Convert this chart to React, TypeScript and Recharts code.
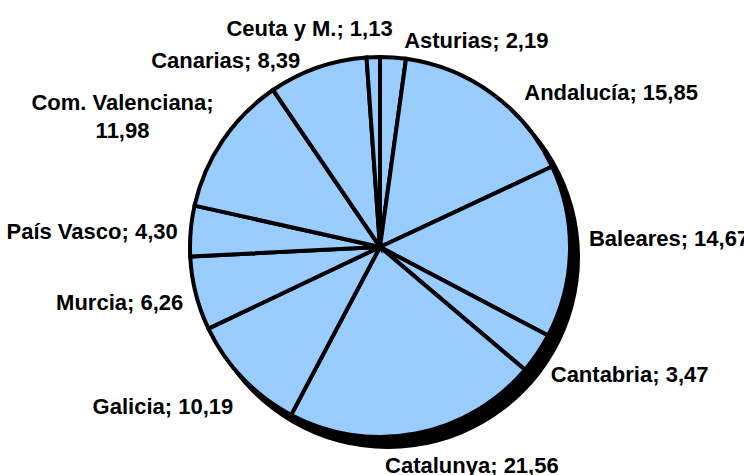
import { PieChart, Pie, Cell } from "recharts";

const regions = [
  "Asturias",
  "Andalucía",
  "Baleares",
  "Cantabria",
  "Catalunya",
  "Galicia",
  "Murcia",
  "País Vasco",
  "Com. Valenciana",
  "Canarias",
  "Ceuta y M.",
];

const shares = [2.19, 15.85, 14.67, 3.47, 21.56, 10.19, 6.26, 4.3, 11.98, 8.39, 1.13];

const data = regions.map((name, i) => ({ name, value: shares[i] }));
const shadow = [{ name: "shadow", value: 1 }];

// small per-label nudges so the labels sit where the original put them
const labelNudge: Record<string, [number, number]> = {
  "Asturias": [10, -1],
  "Andalucía": [22, 11],
  "Baleares": [3, -13],
  "Cantabria": [0, 12],
  "Catalunya": [-34, 16],
  "Galicia": [2, 17],
  "Murcia": [3, 5],
  "País Vasco": [3, 2],
  "Com. Valenciana": [-87, -29],
  "Canarias": [-12, 8],
  "Ceuta y M.": [20, -13],
};

const RADIAN = Math.PI / 180;
const fmt = (v: number) => v.toFixed(2).replace(".", ",");

const renderLabel = (props: any) => {
  const { cx, cy, midAngle, outerRadius, name, value } = props;
  const r = outerRadius + 16;
  const cos = Math.cos(-midAngle * RADIAN);
  const sin = Math.sin(-midAngle * RADIAN);
  const [dx, dy] = labelNudge[name] || [0, 0];
  const x = cx + r * cos + dx;
  const y = cy + r * sin + dy;
  const style = {
    fontFamily: "'Liberation Sans', Arial, sans-serif",
    fontWeight: 700,
    fontSize: 22,
    fill: "#000",
  };
  if (name.length > 12) {
    return (
      <text x={x} y={y} textAnchor="middle" dominantBaseline="central" style={style}>
        <tspan x={x} dy={0}>{name};</tspan>
        <tspan x={x} dy={28}>{fmt(value)}</tspan>
      </text>
    );
  }
  return (
    <text
      x={x}
      y={y}
      textAnchor={cos >= 0 ? "start" : "end"}
      dominantBaseline="central"
      style={style}
    >
      {`${name}; ${fmt(value)}`}
    </text>
  );
};

export default function App() {
  return (
    <div style={{ position: "absolute", left: 0, top: 0, background: "#fff" }}>
      <PieChart width={744} height={475} margin={{ top: 0, right: 0, bottom: 0, left: 0 }}>
        <Pie
          data={shadow}
          dataKey="value"
          cx={388}
          cy={257}
          outerRadius={192}
          fill="#000"
          stroke="none"
          isAnimationActive={false}
        />
        <Pie
          data={data}
          dataKey="value"
          nameKey="name"
          cx={380}
          cy={247}
          outerRadius={190}
          startAngle={90}
          endAngle={-270}
          stroke="#000"
          strokeWidth={4}
          label={renderLabel}
          labelLine={false}
          isAnimationActive={false}
        >
          {data.map((d) => (
            <Cell key={d.name} fill="#99CCFF" />
          ))}
        </Pie>
      </PieChart>
    </div>
  );
}
